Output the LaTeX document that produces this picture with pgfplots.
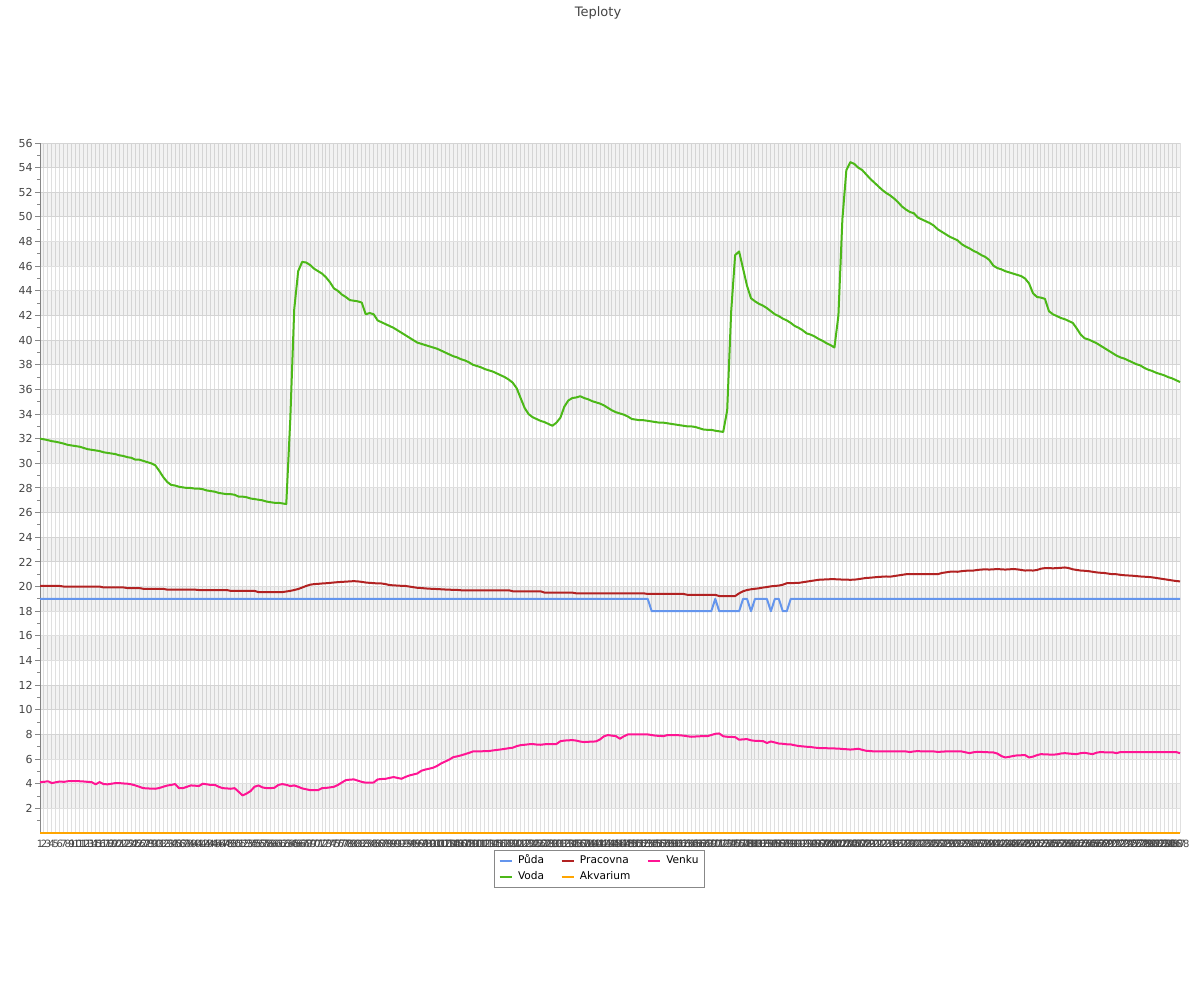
\documentclass[border=0pt]{standalone}
\usepackage{fontspec}
\setmainfont{DejaVu Sans}
\usepackage{pgfplots}
\usepackage{pgfplotstable}
\pgfplotsset{compat=1.18}

\definecolor{puda}{HTML}{6495ED}
\definecolor{voda}{HTML}{4CB818}
\definecolor{pracovna}{HTML}{B22222}
\definecolor{akvarium}{HTML}{FFA500}
\definecolor{venku}{HTML}{FF1493}
\definecolor{gridgray}{HTML}{E0E0E0}
\definecolor{axisgray}{HTML}{888888}
\definecolor{labelgray}{HTML}{444444}

% i = 5-minute sample, values in deg C
\pgfplotstableread{
i voda pracovna venku
1 32.0 20.05 4.13
2 31.95 20.05 4.15
3 31.88 20.05 4.2
4 31.8 20.05 4.05
5 31.75 20.05 4.12
6 31.68 20.05 4.18
7 31.6 20.0 4.15
8 31.5 20.0 4.2
9 31.45 20.0 4.2
10 31.4 20.0 4.2
11 31.35 20.0 4.2
12 31.25 20.0 4.18
13 31.15 20.0 4.15
14 31.1 20.0 4.13
15 31.05 20.0 3.95
16 31.0 20.0 4.13
17 30.9 19.93 3.97
18 30.85 19.93 3.95
19 30.8 19.93 4.0
20 30.75 19.93 4.05
21 30.65 19.93 4.05
22 30.6 19.93 4.02
23 30.5 19.88 4.0
24 30.45 19.88 3.95
25 30.3 19.88 3.86
26 30.3 19.88 3.75
27 30.2 19.82 3.64
28 30.1 19.82 3.62
29 30.0 19.82 3.6
30 29.85 19.82 3.59
31 29.4 19.82 3.65
32 28.9 19.82 3.75
33 28.5 19.75 3.85
34 28.25 19.75 3.9
35 28.2 19.75 3.97
36 28.1 19.75 3.64
37 28.05 19.75 3.64
38 28.0 19.75 3.75
39 28.0 19.75 3.86
40 27.95 19.75 3.84
41 27.95 19.72 3.81
42 27.9 19.72 4.0
43 27.8 19.72 3.95
44 27.75 19.72 3.9
45 27.7 19.72 3.91
46 27.6 19.72 3.75
47 27.55 19.72 3.64
48 27.5 19.72 3.62
49 27.5 19.65 3.59
50 27.45 19.65 3.64
51 27.3 19.65 3.35
52 27.3 19.65 3.05
53 27.25 19.65 3.2
54 27.15 19.65 3.4
55 27.1 19.65 3.75
56 27.05 19.55 3.86
57 27.0 19.55 3.7
58 26.9 19.55 3.64
59 26.85 19.55 3.64
60 26.8 19.55 3.67
61 26.8 19.55 3.9
62 26.75 19.55 3.97
63 26.7 19.6 3.91
64 33.5 19.65 3.81
65 42.5 19.72 3.86
66 45.6 19.8 3.75
67 46.35 19.92 3.62
68 46.3 20.05 3.55
69 46.1 20.15 3.48
70 45.8 20.2 3.48
71 45.6 20.22 3.48
72 45.4 20.25 3.64
73 45.1 20.27 3.66
74 44.7 20.3 3.7
75 44.2 20.33 3.75
76 44.0 20.36 3.9
77 43.7 20.38 4.1
78 43.5 20.4 4.29
79 43.25 20.42 4.33
80 43.2 20.44 4.35
81 43.15 20.42 4.25
82 43.05 20.38 4.15
83 42.1 20.33 4.08
84 42.2 20.3 4.08
85 42.1 20.28 4.1
86 41.6 20.25 4.35
87 41.45 20.25 4.38
88 41.3 20.2 4.4
89 41.15 20.12 4.47
90 41.0 20.1 4.54
91 40.8 20.08 4.47
92 40.6 20.06 4.4
93 40.4 20.05 4.55
94 40.2 20.0 4.67
95 40.0 19.95 4.75
96 39.8 19.9 4.83
97 39.7 19.88 5.05
98 39.6 19.85 5.15
99 39.5 19.83 5.22
100 39.4 19.81 5.3
101 39.3 19.8 5.45
102 39.15 19.78 5.65
103 39.0 19.76 5.8
104 38.85 19.75 5.95
105 38.7 19.73 6.15
106 38.6 19.73 6.22
107 38.45 19.7 6.3
108 38.35 19.7 6.4
109 38.2 19.7 6.5
110 38.0 19.7 6.62
111 37.9 19.7 6.62
112 37.8 19.7 6.63
113 37.65 19.7 6.64
114 37.55 19.7 6.65
115 37.45 19.7 6.7
116 37.3 19.7 6.74
117 37.15 19.7 6.78
118 37.0 19.7 6.83
119 36.8 19.7 6.88
120 36.55 19.62 6.92
121 36.1 19.62 7.05
122 35.3 19.62 7.13
123 34.5 19.62 7.16
124 34.0 19.62 7.2
125 33.75 19.62 7.22
126 33.6 19.62 7.18
127 33.45 19.62 7.16
128 33.35 19.51 7.2
129 33.2 19.51 7.22
130 33.05 19.51 7.22
131 33.3 19.51 7.22
132 33.7 19.51 7.45
133 34.6 19.51 7.5
134 35.1 19.51 7.52
135 35.3 19.51 7.54
136 35.35 19.45 7.5
137 35.45 19.45 7.42
138 35.3 19.45 7.38
139 35.2 19.45 7.4
140 35.05 19.45 7.42
141 34.95 19.45 7.43
142 34.85 19.45 7.6
143 34.7 19.45 7.85
144 34.5 19.45 7.95
145 34.3 19.45 7.9
146 34.15 19.45 7.86
147 34.05 19.45 7.65
148 33.95 19.45 7.85
149 33.8 19.45 8.0
150 33.6 19.45 8.0
151 33.55 19.45 8.0
152 33.5 19.45 8.0
153 33.5 19.45 8.0
154 33.45 19.4 8.0
155 33.4 19.4 7.95
156 33.35 19.4 7.9
157 33.3 19.4 7.88
158 33.3 19.4 7.86
159 33.25 19.4 7.95
160 33.2 19.4 7.95
161 33.15 19.4 7.95
162 33.1 19.4 7.93
163 33.05 19.4 7.9
164 33.0 19.33 7.85
165 33.0 19.33 7.81
166 32.95 19.33 7.83
167 32.85 19.33 7.85
168 32.75 19.33 7.86
169 32.72 19.33 7.86
170 32.72 19.33 7.95
171 32.65 19.33 8.05
172 32.6 19.23 8.08
173 32.55 19.23 7.85
174 34.3 19.23 7.81
175 42.3 19.23 7.8
176 46.9 19.23 7.78
177 47.2 19.45 7.57
178 45.8 19.62 7.6
179 44.4 19.72 7.62
180 43.4 19.78 7.52
181 43.15 19.82 7.48
182 42.95 19.86 7.47
183 42.8 19.92 7.46
184 42.6 19.96 7.3
185 42.35 20.02 7.43
186 42.1 20.05 7.35
187 41.95 20.08 7.26
188 41.75 20.15 7.24
189 41.6 20.27 7.2
190 41.4 20.28 7.19
191 41.15 20.29 7.12
192 41.0 20.3 7.06
193 40.8 20.35 7.03
194 40.55 20.4 7.0
195 40.45 20.45 6.98
196 40.3 20.5 6.93
197 40.1 20.55 6.9
198 39.95 20.57 6.89
199 39.75 20.58 6.88
200 39.6 20.6 6.87
201 39.4 20.6 6.86
202 42.0 20.58 6.85
203 49.8 20.57 6.82
204 53.8 20.56 6.8
205 54.45 20.55 6.77
206 54.3 20.56 6.8
207 54.0 20.6 6.84
208 53.8 20.65 6.75
209 53.45 20.7 6.67
210 53.1 20.72 6.65
211 52.8 20.75 6.62
212 52.5 20.78 6.62
213 52.2 20.8 6.62
214 51.95 20.82 6.62
215 51.75 20.8 6.62
216 51.5 20.85 6.62
217 51.2 20.9 6.62
218 50.85 20.95 6.62
219 50.6 21.0 6.62
220 50.4 21.0 6.57
221 50.3 21.0 6.62
222 49.95 21.0 6.65
223 49.8 21.0 6.62
224 49.65 21.0 6.62
225 49.5 21.0 6.62
226 49.3 21.0 6.62
227 49.0 21.0 6.58
228 48.8 21.1 6.6
229 48.6 21.15 6.62
230 48.4 21.2 6.62
231 48.25 21.22 6.62
232 48.1 21.2 6.62
233 47.8 21.25 6.62
234 47.6 21.28 6.55
235 47.45 21.3 6.48
236 47.25 21.3 6.55
237 47.1 21.35 6.59
238 46.9 21.38 6.58
239 46.75 21.4 6.56
240 46.5 21.38 6.55
241 46.05 21.4 6.54
242 45.85 21.42 6.45
243 45.75 21.4 6.25
244 45.6 21.38 6.13
245 45.5 21.4 6.18
246 45.4 21.42 6.25
247 45.3 21.4 6.3
248 45.2 21.35 6.31
249 45.0 21.3 6.32
250 44.6 21.32 6.13
251 43.8 21.3 6.2
252 43.5 21.35 6.32
253 43.45 21.45 6.4
254 43.35 21.5 6.38
255 42.35 21.5 6.37
256 42.1 21.48 6.36
257 41.95 21.5 6.38
258 41.8 21.52 6.45
259 41.7 21.55 6.48
260 41.55 21.5 6.45
261 41.4 21.4 6.42
262 40.95 21.35 6.4
263 40.45 21.3 6.48
264 40.15 21.28 6.51
265 40.05 21.25 6.45
266 39.9 21.2 6.4
267 39.75 21.15 6.52
268 39.55 21.12 6.57
269 39.35 21.1 6.55
270 39.15 21.05 6.55
271 38.95 21.0 6.55
272 38.75 21.0 6.48
273 38.6 20.95 6.57
274 38.5 20.92 6.57
275 38.35 20.9 6.57
276 38.2 20.88 6.57
277 38.05 20.85 6.57
278 37.95 20.82 6.57
279 37.75 20.8 6.57
280 37.6 20.78 6.57
281 37.5 20.75 6.57
282 37.35 20.7 6.57
283 37.25 20.65 6.57
284 37.15 20.6 6.57
285 37.0 20.55 6.57
286 36.9 20.5 6.57
287 36.75 20.45 6.57
288 36.6 20.42 6.48
}\teploty

\begin{document}
\begin{tikzpicture}
\begin{axis}[
    at={(0,0)}, anchor=south west,
    scale only axis, width=570pt, height=345pt,
    clip=false,
    xmin=1, xmax=288, ymin=0, ymax=56,
    axis x line=bottom, axis y line=left,
    axis line style={-, draw=axisgray, line width=0.5pt},
    xtick={1,...,288},
    x tick style={draw=none},
    xticklabel style={font=\fontsize{5}{6}\selectfont, text=labelgray, inner sep=1pt},
    ytick={2,4,...,56},
    minor ytick={1,3,...,55},
    y tick style={draw=axisgray, line width=0.5pt},
    tick align=outside,
    major tick length=2.5pt, minor tick length=1.5pt,
    yticklabel style={font=\fontsize{5.5}{6.5}\selectfont, text=labelgray, inner sep=1pt},
    /pgf/number format/assume math mode=true,
    grid=major,
    major grid style={draw=gridgray, line width=0.5pt},
    title={Teploty},
    title style={at={(0.4895,1)}, anchor=center, yshift=59pt, inner sep=0pt,
        font=\fontsize{6.5}{7.5}\selectfont, text=labelgray},
    legend columns=3,
    legend cell align=left,
    legend style={at={(0.491,0)}, anchor=north, yshift=-8.5pt,
        draw=axisgray, line width=0.5pt,
        font=\fontsize{5.3}{6.5}\selectfont, text=black,
        inner xsep=2pt, inner ysep=1pt,
        nodes={inner sep=1.2pt},
        /tikz/every odd column/.append style={column sep=1.5pt},
        /tikz/every even column/.append style={column sep=7pt}},
    legend image code/.code={\draw[#1, line width=1pt] (0pt,0pt) -- (6pt,0pt);},
    every axis plot/.append style={line width=1pt, line join=round},
]
% alternating light bands, semi-transparent so the grid shows through
\pgfplotsforeachungrouped \b in {2,6,...,54}{%
    \pgfmathtruncatemacro\t{\b+2}%
    \edef\band{\noexpand\fill[black, fill opacity=0.05, draw=none] (axis cs:1,\b) rectangle (axis cs:288,\t);}%
    \band
}

\addplot[puda] coordinates {
(1,19) (154,19) (155,18) (170,18) (171,19) (172,18) (177,18) (178,19) (179,19)
(180,18) (181,19) (184,19) (185,18) (186,19) (187,19) (188,18) (189,18) (190,19) (288,19)
};
\addlegendentry{Půda}
\addplot[pracovna] table[x=i, y=pracovna] {\teploty};
\addlegendentry{Pracovna}
\addplot[venku] table[x=i, y=venku] {\teploty};
\addlegendentry{Venku}
\addplot[voda] table[x=i, y=voda] {\teploty};
\addlegendentry{Voda}
\addplot[akvarium] coordinates {(1,0) (288,0)};
\addlegendentry{Akvarium}
\end{axis}
\path (-20pt,-83.5pt) rectangle (580pt,416.5pt);
\end{tikzpicture}
\end{document}
